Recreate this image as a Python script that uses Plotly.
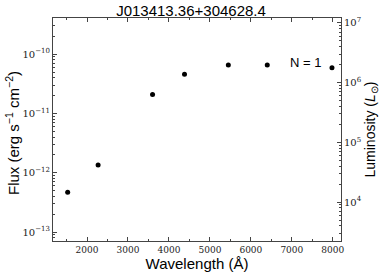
import plotly.graph_objects as go

wavelength = [1528, 2271, 3600, 4380, 5450, 6400, 7980]
flux = [4.7e-13, 1.35e-12, 2.1e-11, 4.6e-11, 6.6e-11, 6.6e-11, 5.9e-11]

flux_ticks = [1e-13, 1e-12, 1e-11, 1e-10]
flux_labels = ["10<sup>−13</sup>", "10<sup>−12</sup>", "10<sup>−11</sup>", "10<sup>−10</sup>"]
lum_ticks = [1e4, 1e5, 1e6, 1e7]
lum_labels = ["10<sup>4</sup>", "10<sup>5</sup>", "10<sup>6</sup>", "10<sup>7</sup>"]
x_ticks = [2000, 3000, 4000, 5000, 6000, 7000, 8000]

serif = "DejaVu Serif"
sans = "Liberation Sans"

fig = go.Figure()
fig.add_trace(go.Scatter(x=wavelength, y=flux, mode="markers",
                         marker=dict(color="black", size=5), showlegend=False))
fig.add_trace(go.Scatter(x=[], y=[], yaxis="y2", showlegend=False))

axcommon = dict(showline=True, linecolor="#444", linewidth=1, ticks="inside",
                ticklen=4, tickcolor="#444", showgrid=False, zeroline=False,
                automargin=False)

fig.update_layout(
    width=382, height=277,
    margin=dict(l=53, r=41, t=18, b=36),
    plot_bgcolor="white", paper_bgcolor="white",
    title=dict(text="J013413.36+304628.4", x=0.5, xanchor="center", y=0.962, yanchor="middle",
               font=dict(family=sans, size=15, color="black")),
    xaxis=dict(range=[1170, 8200], tickvals=x_ticks, mirror="ticks",
               tickfont=dict(family=serif, size=9, color="#222"),
               minor=dict(ticks="inside", ticklen=2, dtick=500, tickcolor="#444"),
               title=dict(text="Wavelength (Å)",
                          font=dict(family=sans, size=15, color="black"), standoff=1),
               **axcommon),
    yaxis=dict(type="log", range=[-13.15, -9.39], tickvals=flux_ticks, ticktext=flux_labels,
               tickfont=dict(family=serif, size=10, color="#222"),
               minor=dict(ticks="inside", ticklen=2, dtick="D1", tickcolor="#444"),
               **axcommon),
    yaxis2=dict(type="log", range=[3.35, 7.08], overlaying="y", side="right",
                tickvals=lum_ticks, ticktext=lum_labels,
                tickfont=dict(family=serif, size=10, color="#222"),
                minor=dict(ticks="inside", ticklen=2, dtick="D1", tickcolor="#444"),
                title=dict(text="Luminosity (<i>L</i><sub>⊙</sub>)",
                           font=dict(family=sans, size=14, color="black"), standoff=1),
                **axcommon),
    annotations=[
        dict(text="N = 1", x=7340, y=-10.14, xref="x", yref="y",
             showarrow=False, font=dict(family=sans, size=13, color="black")),
        dict(text="Flux (erg s<sup>−1</sup> cm<sup>−2</sup>)", x=-0.1406, y=0.482,
             xref="paper", yref="paper", textangle=-90, xanchor="center", yanchor="middle",
             showarrow=False, font=dict(family=sans, size=15, color="black")),
    ],
)

fig.write_html("out.html", config={"displayModeBar": False},
               post_script="document.body.style.margin='0';document.body.style.padding='0';")
